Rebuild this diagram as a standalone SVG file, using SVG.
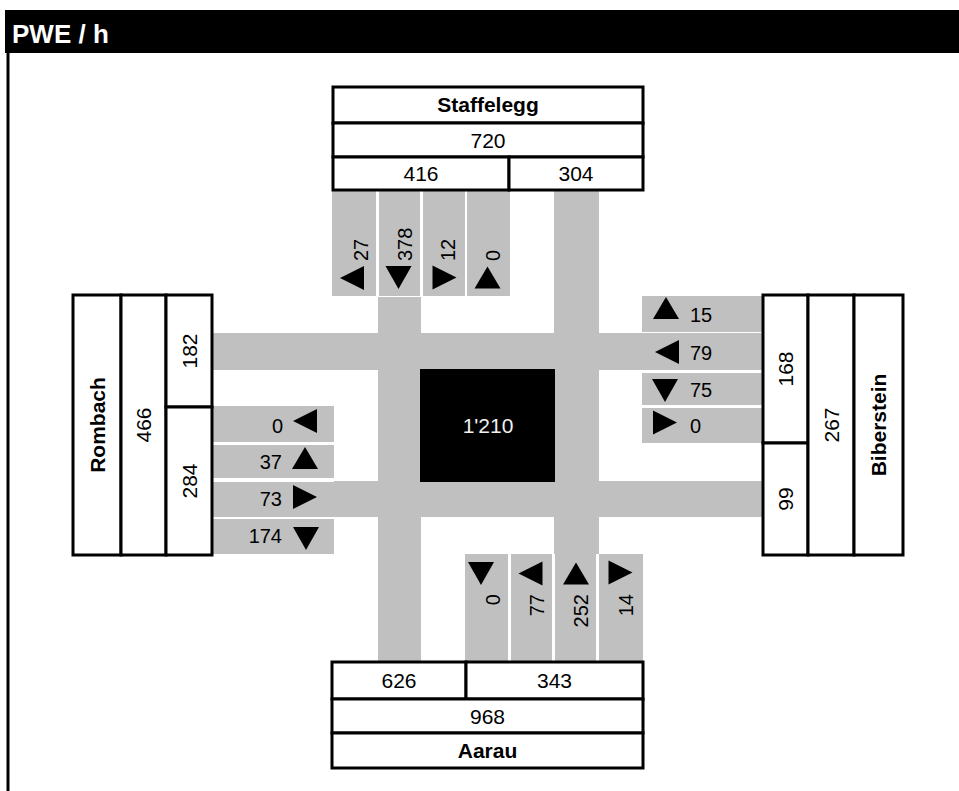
<svg xmlns="http://www.w3.org/2000/svg" width="959" height="791" viewBox="0 0 959 791">
<style>
.bg{fill:#ffffff}
.road{fill:#c0c0c0}
.box{fill:#ffffff;stroke:#000000;stroke-width:3}
.t{font-family:"Liberation Sans",Arial,sans-serif;font-size:21px;fill:#000000}
.b{font-weight:bold}
.l{font-family:"Liberation Sans",Arial,sans-serif;font-size:20px;fill:#000000}
.m{text-anchor:middle}
.e{text-anchor:end}
.tri{fill:#000000}
</style>
<defs>
<polygon id="up" points="0,-11 13,11 -13,11"/>
<polygon id="dn" points="-13,-11 13,-11 0,12"/>
<polygon id="lf" points="-12,0 12,-12 12,12"/>
<polygon id="rt" points="12,0 -12,-12 -12,12"/>
</defs>
<rect class="bg" x="0" y="0" width="959" height="791"/>
<g id="frame">
<rect x="5" y="10" width="954" height="43" fill="#000000"/>
<line x1="8" y1="53" x2="8" y2="791" stroke="#000000" stroke-width="3"/>
<text x="12" y="43" font-family="Liberation Sans,Arial,sans-serif" font-size="26" font-weight="bold" fill="#ffffff">PWE / h</text>
</g>
<g id="connectors">
<rect class="road" x="212" y="333" width="551" height="37"/>
<rect class="road" x="334" y="481" width="429" height="36"/>
<rect class="road" x="378" y="297" width="43" height="365"/>
<rect class="road" x="554" y="190" width="45" height="364"/>
<rect class="road" x="332" y="190" width="44" height="106"/>
<rect class="road" x="379" y="190" width="41" height="106"/>
<rect class="road" x="423" y="190" width="42" height="106"/>
<rect class="road" x="467" y="190" width="43" height="106"/>
<rect class="road" x="642" y="296" width="121" height="36"/>
<rect class="road" x="642" y="373" width="121" height="32"/>
<rect class="road" x="642" y="408" width="121" height="35"/>
<rect class="road" x="212" y="406" width="122" height="36"/>
<rect class="road" x="212" y="445" width="122" height="33"/>
<rect class="road" x="212" y="482" width="122" height="35"/>
<rect class="road" x="212" y="519" width="122" height="35"/>
<rect class="road" x="465" y="554" width="43" height="108"/>
<rect class="road" x="511" y="554" width="41" height="108"/>
<rect class="road" x="555" y="554" width="41" height="108"/>
<rect class="road" x="599" y="554" width="44" height="108"/>
</g>
<g id="center">
<rect x="420" y="369" width="135" height="113" fill="#000000"/>
<text class="t m" x="488" y="433" style="fill:#f0f0f0">1'210</text>
</g>
<g id="staffelegg">
<rect class="box" x="333" y="87" width="310" height="36"/>
<rect class="box" x="333" y="123" width="310" height="34"/>
<rect class="box" x="333" y="157" width="176" height="33"/>
<rect class="box" x="509" y="157" width="134" height="33"/>
<text class="t b m" x="488" y="112">Staffelegg</text>
<text class="t m" x="488" y="147.5">720</text>
<text class="t m" x="421" y="181">416</text>
<text class="t m" x="576" y="181">304</text>
</g>
<g id="staffelegg-lanes">
<use href="#lf" x="352" y="278"/>
<use href="#dn" x="398.5" y="277"/>
<use href="#rt" x="444.5" y="277.5"/>
<use href="#up" x="487.5" y="277.5"/>
<text class="l" transform="translate(368,261) rotate(-90)">27</text>
<text class="l" transform="translate(412,261) rotate(-90)">378</text>
<text class="l" transform="translate(455,261) rotate(-90)">12</text>
<text class="l" transform="translate(500,261) rotate(-90)">0</text>
</g>
<g id="rombach">
<rect class="box" x="73" y="295" width="48" height="260"/>
<rect class="box" x="121" y="295" width="45" height="260"/>
<rect class="box" x="166" y="295" width="46" height="112"/>
<rect class="box" x="166" y="407" width="46" height="148"/>
<text class="t b m" transform="translate(104.5,425) rotate(-90)">Rombach</text>
<text class="t m" transform="translate(151,425) rotate(-90)">466</text>
<text class="t m" transform="translate(196.5,351) rotate(-90)">182</text>
<text class="t m" transform="translate(196.5,481) rotate(-90)">284</text>
</g>
<g id="rombach-lanes">
<use href="#lf" x="305" y="421"/>
<use href="#up" x="305" y="458"/>
<use href="#rt" x="305" y="497"/>
<use href="#dn" x="306" y="538"/>
<text class="l e" x="283" y="433">0</text>
<text class="l e" x="282" y="469">37</text>
<text class="l e" x="282" y="506">73</text>
<text class="l e" x="282" y="543">174</text>
</g>
<g id="biberstein">
<rect class="box" x="763" y="295" width="45" height="148"/>
<rect class="box" x="763" y="443" width="45" height="112"/>
<rect class="box" x="808" y="295" width="46" height="260"/>
<rect class="box" x="854" y="295" width="49" height="260"/>
<text class="t m" transform="translate(793,369) rotate(-90)">168</text>
<text class="t m" transform="translate(793,499) rotate(-90)">99</text>
<text class="t m" transform="translate(838.5,425) rotate(-90)">267</text>
<text class="t b m" transform="translate(886,425) rotate(-90)">Biberstein</text>
</g>
<g id="biberstein-lanes">
<use href="#up" x="666" y="308"/>
<use href="#lf" x="667" y="352"/>
<use href="#dn" x="665" y="390"/>
<use href="#rt" x="665" y="422.5"/>
<text class="l" x="690" y="322">15</text>
<text class="l" x="690" y="360">79</text>
<text class="l" x="690" y="397">75</text>
<text class="l" x="690" y="433">0</text>
</g>
<g id="aarau">
<rect class="box" x="332" y="662" width="134" height="37"/>
<rect class="box" x="466" y="662" width="177" height="37"/>
<rect class="box" x="332" y="699" width="311" height="34"/>
<rect class="box" x="332" y="733" width="311" height="35"/>
<text class="t m" x="399" y="688">626</text>
<text class="t m" x="554.5" y="688">343</text>
<text class="t m" x="487.5" y="723.5">968</text>
<text class="t b m" x="487.5" y="758">Aarau</text>
</g>
<g id="aarau-lanes">
<use href="#dn" x="481" y="573"/>
<use href="#lf" x="530.5" y="573.5"/>
<use href="#up" x="576" y="573.5"/>
<use href="#rt" x="620.5" y="572.5"/>
<text class="l e" transform="translate(500,594) rotate(-90)">0</text>
<text class="l e" transform="translate(544,594) rotate(-90)">77</text>
<text class="l e" transform="translate(588,594) rotate(-90)">252</text>
<text class="l e" transform="translate(633,594) rotate(-90)">14</text>
</g>
</svg>
